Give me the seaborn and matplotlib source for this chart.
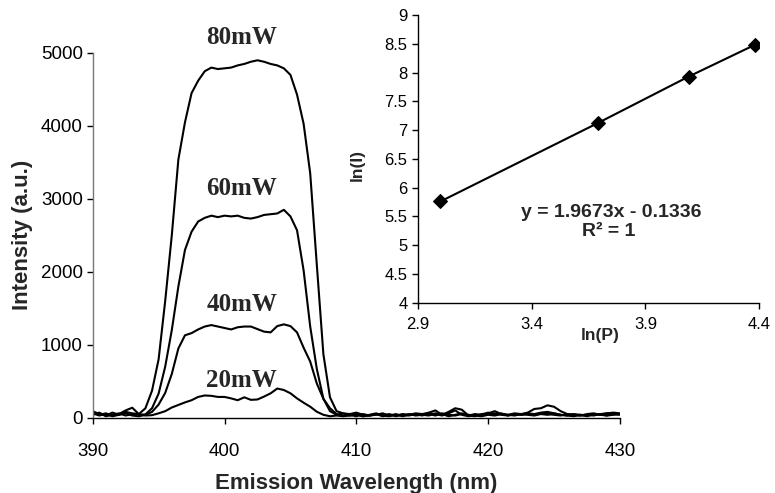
import numpy as np
import pandas as pd
import seaborn as sns
from matplotlib import pyplot as plt
from matplotlib.ticker import FormatStrFormatter

# emission spectra, sampled every 0.5 nm from 390 to 430 nm
wavelength = np.arange(390, 430.01, 0.5)

i_80mw = [90, 50, 30, 70, 40, 80, 60, 50, 130, 370,
          800, 1600, 2500, 3540, 4050, 4450, 4620, 4750, 4800, 4780,
          4790, 4800, 4830, 4850, 4880, 4900, 4880, 4850, 4830, 4790,
          4700, 4430, 4030, 3350, 2100, 870, 280, 90, 60, 50,
          70, 40, 30, 50, 20, 40, 30, 50, 40, 60,
          50, 70, 100, 40, 80, 130, 110, 30, 20, 50,
          60, 90, 50, 40, 60, 50, 70, 120, 130, 170,
          150, 90, 50, 40, 30, 40, 30, 50, 60, 70, 60]
i_60mw = [40, 70, 20, 40, 60, 30, 50, 40, 45, 130,
          330, 700, 1200, 1800, 2300, 2550, 2690, 2740, 2770, 2750,
          2770, 2760, 2770, 2740, 2730, 2750, 2780, 2790, 2800, 2850,
          2760, 2570, 2020, 1250, 670, 260, 90, 40, 60, 30,
          50, 20, 40, 60, 30, 50, 20, 40, 30, 50,
          40, 30, 60, 50, 20, 40, 60, 30, 50, 40,
          70, 40, 60, 30, 50, 40, 60, 50, 70, 80,
          60, 40, 30, 50, 40, 20, 50, 40, 60, 50, 40]
i_40mw = [60, 30, 50, 20, 40, 60, 30, 20, 40, 80,
          180, 340, 600, 950, 1130, 1160, 1210, 1250, 1270, 1250,
          1230, 1210, 1240, 1250, 1250, 1215, 1180, 1170, 1256, 1280,
          1256, 1170, 960, 770, 470, 260, 130, 50, 30, 40,
          20, 50, 30, 40, 60, 30, 50, 20, 40, 50,
          30, 60, 50, 30, 60, 100, 40, 20, 40, 30,
          50, 60, 40, 30, 50, 40, 50, 40, 60, 50,
          40, 30, 50, 40, 30, 50, 60, 40, 30, 60, 50]
i_20mw = [70, 40, 60, 30, 50, 100, 137, 50, 30, 35,
          60, 90, 140, 175, 210, 240, 285, 305, 300, 285,
          285, 265, 240, 280, 245, 250, 290, 335, 400, 380,
          335, 265, 206, 151, 82, 40, 20, 30, 20, 30,
          40, 20, 30, 50, 30, 20, 40, 30, 50, 30,
          40, 50, 30, 60, 40, 30, 50, 40, 30, 20,
          40, 30, 50, 40, 30, 50, 40, 30, 50, 40,
          60, 40, 30, 20, 40, 30, 40, 50, 30, 40, 50]

powers = ['80mW', '60mW', '40mW', '20mW']
label_x = [401.3, 401.3, 401.3, 401.3]
label_y = [5120, 3060, 1460, 420]

# inset: ln of power vs ln of intensity
ln_p = [3.00, 3.69, 4.09, 4.38]
ln_i = [5.76, 7.12, 7.93, 8.48]

df = pd.DataFrame({
    'wl': np.tile(wavelength, 4),
    'intensity': i_80mw + i_60mw + i_40mw + i_20mw,
    'power': np.repeat(powers, len(wavelength)),
})

sns.set_style('ticks')
plt.rcParams['font.family'] = ['Liberation Sans', 'DejaVu Sans']

fig = plt.figure(figsize=(7.75, 4.93), dpi=100)
ax = fig.add_axes([0.1196, 0.1527, 0.6804, 0.7398])

sns.lineplot(data=df, x='wl', y='intensity', hue='power', hue_order=powers,
             palette={p: 'black' for p in powers}, linewidth=1.5,
             legend=False, ax=ax)

ax.set_xlim(390, 430)
ax.set_ylim(0, 5000)
ax.set_xticks([390, 400, 410, 420, 430])
ax.set_yticks([0, 1000, 2000, 3000, 4000, 5000])
ax.tick_params(axis='x', length=4, width=1, pad=14, labelsize=13.5, colors='black')
ax.tick_params(axis='y', length=4, width=1, pad=3, labelsize=13.5, colors='black')
for s in ['top', 'right']:
    ax.spines[s].set_visible(False)
ax.spines['left'].set_color('#777777')
ax.spines['left'].set_linewidth(1)
ax.spines['bottom'].set_color('black')
ax.spines['bottom'].set_linewidth(1)

ax.set_xlabel('Emission Wavelength (nm)', fontsize=16, fontweight='bold')
ax.set_ylabel('Intensity (a.u.)', fontsize=16, fontweight='bold')
ax.xaxis.set_label_coords(0.5, -0.152)
ax.yaxis.set_label_coords(-0.113, 0.5)

for name, lx, ly in zip(powers, label_x, label_y):
    ax.text(lx, ly, name, ha='center', va='baseline', fontsize=18,
            fontweight='bold', family='Liberation Serif', clip_on=False)

# inset plot
ax_in = fig.add_axes([0.539, 0.386, 0.4407, 0.5836])
ax_in.set_facecolor('white')
sns.lineplot(x=ln_p, y=ln_i, marker='D', markersize=7, color='black',
             markeredgecolor='black', linewidth=1.5, ax=ax_in)
ax_in.set_xlim(2.9, 4.4)
ax_in.set_ylim(4, 9)
ax_in.set_xticks([2.9, 3.4, 3.9, 4.4])
ax_in.set_yticks(np.arange(4, 9.01, 0.5))
ax_in.yaxis.set_major_formatter(FormatStrFormatter('%g'))
ax_in.xaxis.set_major_formatter(FormatStrFormatter('%g'))
ax_in.tick_params(axis='x', length=4.3, width=1, pad=6, labelsize=12, colors='black')
ax_in.tick_params(axis='y', length=4.3, width=1, pad=3, labelsize=12, colors='black')
for s in ['top', 'right']:
    ax_in.spines[s].set_visible(False)
for s in ['left', 'bottom']:
    ax_in.spines[s].set_color('black')
    ax_in.spines[s].set_linewidth(1)

ax_in.set_xlabel('ln(P)', fontsize=12.5, fontweight='bold')
ax_in.set_ylabel('ln(I)', fontsize=12.5, fontweight='bold')
ax_in.xaxis.set_label_coords(0.534, -0.088)
ax_in.yaxis.set_label_coords(-0.154, 0.48)

ax_in.text(3.752, 5.576, 'y = 1.9673x - 0.1336', ha='center', va='center',
           fontsize=14, fontweight='bold')
ax_in.text(3.74, 5.245, 'R² = 1', ha='center', va='center',
           fontsize=14, fontweight='bold')

plt.savefig('out.png', dpi=100)
plt.close()
